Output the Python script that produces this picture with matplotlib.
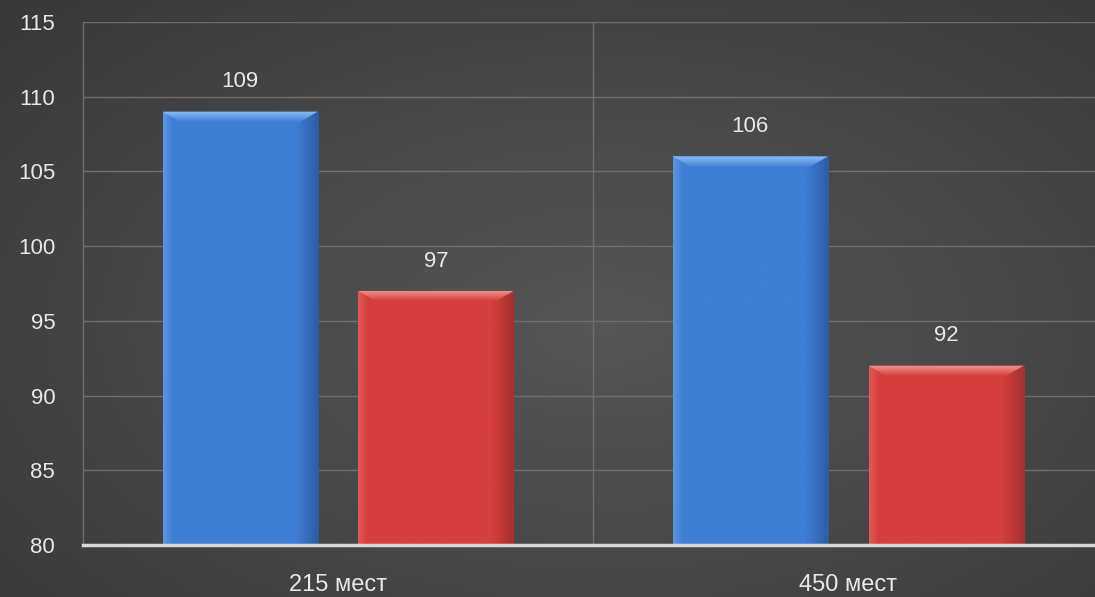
import numpy as np
import matplotlib
matplotlib.use("Agg")
import matplotlib.pyplot as plt
from matplotlib.colors import LinearSegmentedColormap
from matplotlib.patches import Polygon

categories = ["215 мест", "450 мест"]
series_blue = [109, 106]
series_red = [97, 92]
y_ticks = [80, 85, 90, 95, 100, 105, 110, 115]

plt.rcParams['font.family'] = ['Liberation Sans', 'DejaVu Sans']

W, H = 1095, 597
fig = plt.figure(figsize=(W / 100, H / 100), dpi=100)

# background radial gradient
bg = fig.add_axes([0, 0, 1, 1], zorder=-10)
yy, xx = np.mgrid[0:1:300j, 0:1:600j]
r = np.sqrt(((xx - 0.55) / 0.75) ** 2 + ((yy - 0.45) / 0.8) ** 2)
val = np.clip(0.34 - 0.12 * r, 0.2, 0.34)
bg.imshow(np.dstack([val, val, val]), extent=[0, 1, 0, 1], aspect='auto', origin='lower')
bg.axis('off')

left = 83 / W
right = 1095 / W
bottom = (H - 545) / H
top = (H - 22) / H
ax = fig.add_axes([left, bottom, right - left, top - bottom])
ax.set_facecolor('none')
ax.set_xlim(-0.5, 1.484)
ax.set_ylim(80, 115)

x = np.arange(len(categories))
w = 0.304
off = 0.192

def grad_bar(bars, c_edge_l, c_mid, c_edge_r, c_light):
    cmap = LinearSegmentedColormap.from_list(
        'g', [(0, c_edge_l), (0.06, c_mid), (0.85, c_mid), (1, c_edge_r)])
    hcmap = LinearSegmentedColormap.from_list('h', [c_mid, c_light])
    for b in bars:
        x0, y0 = b.get_x(), b.get_y()
        bw, bh = b.get_width(), b.get_height()
        g = np.linspace(0, 1, 200)[None, :]
        im = ax.imshow(np.repeat(g, 2, axis=0), cmap=cmap, extent=[x0, x0 + bw, y0, y0 + bh],
                       aspect='auto', zorder=3, origin='lower')
        im.set_clip_path(b)
        # top bevel (trapezoid)
        yt = y0 + bh
        bev_h = 0.7
        bev_w = 0.035
        poly = Polygon([[x0, yt], [x0 + bw, yt], [x0 + bw - bev_w, yt - bev_h],
                        [x0 + bev_w, yt - bev_h]], closed=True, facecolor='none',
                       edgecolor='none', transform=ax.transData)
        ax.add_patch(poly)
        gv = np.linspace(0, 1, 50)[:, None]
        him = ax.imshow(np.repeat(gv, 2, axis=1), cmap=hcmap,
                        extent=[x0, x0 + bw, yt - bev_h, yt], aspect='auto', zorder=4,
                        origin='lower')
        him.set_clip_path(poly)

b1 = ax.bar(x - off, np.array(series_blue) - 80, width=w, bottom=80, color='#3F7FD6',
            zorder=2, linewidth=0)
b2 = ax.bar(x + off, np.array(series_red) - 80, width=w, bottom=80, color='#D63D3B',
            zorder=2, linewidth=0)
grad_bar(b1, '#5A95E0', '#3F7FD6', '#2D5DA5', '#8FC0F5')
grad_bar(b2, '#E05A55', '#D63F3D', '#A53230', '#F59590')

for xi, v in zip(x - off, series_blue):
    ax.text(xi, v + 1.3, str(v), ha='center', va='bottom', color='#E8E8E8', fontsize=16)
for xi, v in zip(x + off, series_red):
    ax.text(xi, v + 1.3, str(v), ha='center', va='bottom', color='#E8E8E8', fontsize=16)

ax.set_yticks(y_ticks)
ax.set_yticklabels([str(t) for t in y_ticks], color='#E8E8E8', fontsize=16)
ax.set_xticks(x)
ax.set_xticklabels(categories, color='#E8E8E8', fontsize=17)
ax.tick_params(axis='y', length=0, pad=20)
ax.tick_params(axis='x', length=0, pad=21)

for t in y_ticks[1:]:
    ax.axhline(t, color='#6E6E6E', linewidth=1.0, zorder=1)
ax.axvline(0.5, color='#6E6E6E', linewidth=1.0, zorder=1)

for s in ['top', 'right']:
    ax.spines[s].set_visible(False)
ax.spines['left'].set_color('#6E6E6E')
ax.spines['left'].set_linewidth(1.0)
ax.spines['bottom'].set_color('#D8D8D8')
ax.spines['bottom'].set_linewidth(2.5)
ax.spines['bottom'].set_zorder(5)

fig.savefig('out.png', dpi=100)
